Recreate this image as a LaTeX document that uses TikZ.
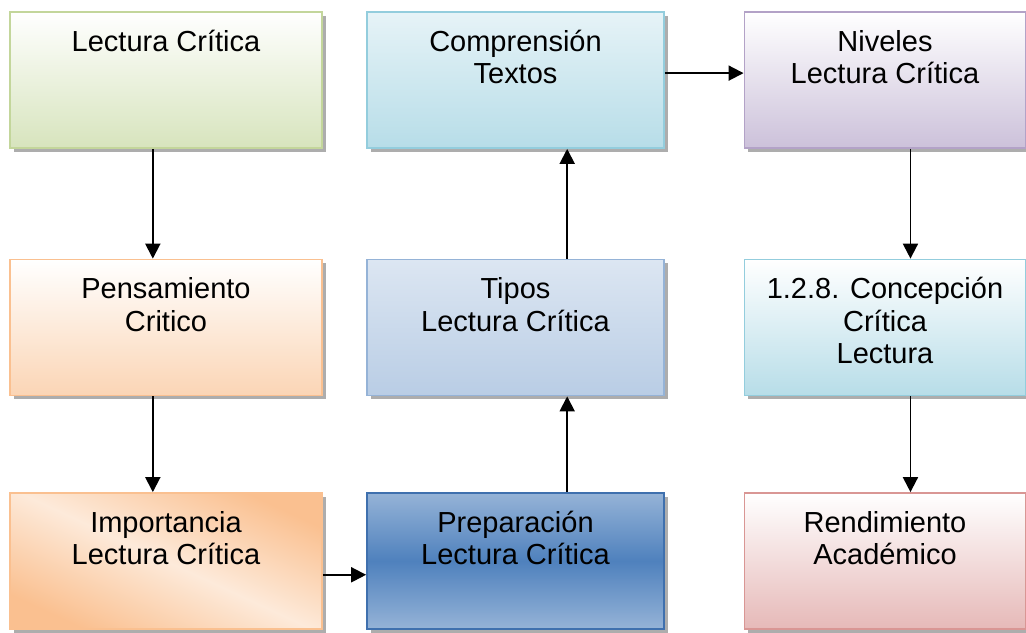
\documentclass[tikz,border=0pt]{standalone}
\usepackage{fontspec}
\setmainfont{Liberation Sans}
\usepackage{tikz}
\usetikzlibrary{shadows}
\usetikzlibrary{arrows.meta}
\usetikzlibrary{calc}
\definecolor{verdeB}{HTML}{C3D69B}
\definecolor{verdeF}{HTML}{D7E4BD}
\definecolor{naranjaB}{HTML}{FAC090}
\definecolor{naranjaF}{HTML}{FBD5B5}
\definecolor{naranjaC}{HTML}{FDEADA}
\definecolor{celesteB}{HTML}{93CDDD}
\definecolor{celesteF}{HTML}{B7DDE8}
\definecolor{celesteC}{HTML}{E6F3F7}
\definecolor{azulB}{HTML}{95B3D7}
\definecolor{azulF}{HTML}{B9CDE5}
\definecolor{azulC}{HTML}{DCE6F2}
\definecolor{azulO}{HTML}{4F81BD}
\definecolor{azulOB}{HTML}{3F70AE}
\definecolor{moradoB}{HTML}{B3A2C7}
\definecolor{moradoF}{HTML}{CCC1DA}
\definecolor{rojoB}{HTML}{D99694}
\definecolor{rojoF}{HTML}{E6B9B8}
\tikzset{
    caja/.style={
        rectangle,
        draw,
        line width=1pt,
        inner sep=0pt,
        minimum height=2.72cm,
        font=\fontsize{16.5}{18.5}\selectfont,
        drop shadow={shadow xshift=2pt,shadow yshift=-2pt,fill=gray!80,opacity=.8},
        execute at begin node={\begin{minipage}[c][77pt][t]{160pt}\centering\vspace*{9.2pt}\strut},
        execute at end node={\end{minipage}}
    },
    col1/.style={caja,minimum width=6.24cm},
    col2/.style={caja,minimum width=5.94cm},
    col3/.style={caja,minimum width=5.56cm},
    flecha/.style={
        -{Triangle[length=8.5pt,width=8.5pt]},
        line width=1.1pt
    }
}
\begin{document}
\begin{tikzpicture}
        \useasboundingbox (0,0) rectangle (20.52,-12.64);
        % primera columna
        \node[col1,draw=verdeB,top color=white,bottom color=verdeF] (lectura) at (3.32,-1.6) {Lectura Crítica};
        \node[col1,draw=naranjaB,top color=white,bottom color=naranjaF] (pensamiento) at (3.32,-6.55) {Pensamiento\\Critico};
        \node[col1,draw=naranjaB,top color=naranjaB,bottom color=naranjaB,middle color=naranjaC,shading angle=-25] (importancia) at (3.32,-11.22) {Importancia\\Lectura Crítica};
        % segunda columna
        \node[col2,draw=celesteB,top color=celesteC,bottom color=celesteF] (comprension) at (10.31,-1.6) {Comprensión\\Textos};
        \node[col2,draw=azulB,top color=azulC,bottom color=azulF] (tipos) at (10.31,-6.55) {Tipos\\Lectura Crítica};
        \node[col2,draw=azulOB,top color=azulB,bottom color=azulB,middle color=azulO] (preparacion) at (10.31,-11.22) {Preparación\\Lectura Crítica};
        % tercera columna
        \node[col3,draw=moradoB,top color=white,bottom color=moradoF] (niveles) at (17.7,-1.6) {Niveles\\Lectura Crítica};
        \node[col3,draw=celesteB,top color=white,bottom color=celesteF] (concepcion) at (17.7,-6.55) {1.2.8. Concepción\\Crítica\\Lectura};
        \node[col3,draw=rojoB,top color=white,bottom color=rojoF] (rendimiento) at (17.7,-11.22) {Rendimiento\\Académico};

        \draw[flecha] ($(lectura.south west)!0.458!(lectura.south east)$) -- ($(pensamiento.north west)!0.458!(pensamiento.north east)$);
        \draw[flecha] ($(pensamiento.south west)!0.458!(pensamiento.south east)$) -- ($(importancia.north west)!0.458!(importancia.north east)$);
        \draw[flecha] ($(importancia.north east)!0.6!(importancia.south east)$) -- ($(preparacion.north west)!0.6!(preparacion.south west)$);
        \draw[flecha] ($(preparacion.north west)!0.673!(preparacion.north east)$) -- ($(tipos.south west)!0.673!(tipos.south east)$);
        \draw[flecha] ($(tipos.north west)!0.673!(tipos.north east)$) -- ($(comprension.south west)!0.673!(comprension.south east)$);
        \draw[flecha] ($(comprension.north east)!0.45!(comprension.south east)$) -- ($(niveles.north west)!0.45!(niveles.south west)$);
        \draw[flecha] ($(niveles.south west)!0.59!(niveles.south east)$) -- ($(concepcion.north west)!0.59!(concepcion.north east)$);
        \draw[flecha] ($(concepcion.south west)!0.59!(concepcion.south east)$) -- ($(rendimiento.north west)!0.59!(rendimiento.north east)$);
    \end{tikzpicture}
\end{document}
